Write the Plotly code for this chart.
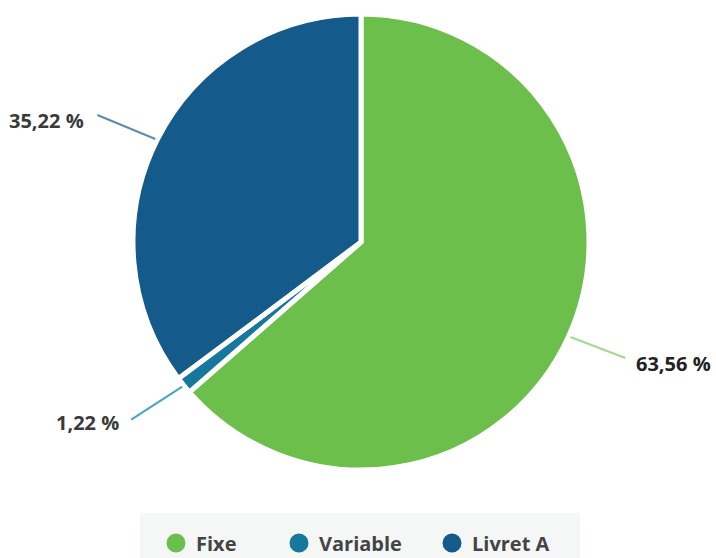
import math
import plotly.graph_objects as go

# ---- data ----
categories = ["Fixe", "Variable", "Livret A"]
values = [63.56, 1.22, 35.22]
value_labels = ["63,56 %", "1,22 %", "35,22 %"]

# ---- styles ----
colors = ["#6cbf4a", "#17789e", "#145a8a"]
line_colors = ["#a5d990", "#4aa3c7", "#5b8eae"]
W, H = 716, 558
CX, CY, R = 361, 242, 227
DOM_PAD = 1

def px(x):
    return x / W

def py(y):
    return 1 - y / H

fig = go.Figure()
fig.add_trace(go.Pie(
    labels=categories, values=values,
    sort=False, direction="clockwise", rotation=0,
    marker=dict(colors=colors, line=dict(color="white", width=5)),
    textinfo="none", hoverinfo="skip", showlegend=False,
    domain=dict(x=[px(CX - R - DOM_PAD), px(CX + R + DOM_PAD)],
                y=[py(CY + R + DOM_PAD), py(CY - R - DOM_PAD)]),
))

# leader-line offsets (px) and label offsets from the line end
line_off = {"Fixe": (55, 21), "Variable": (-51, 33), "Livret A": (-58, -24)}
text_off = {"Fixe": (9, 5), "Variable": (-10, 3), "Livret A": (-11, 5)}
text_col = {"Fixe": "#222222", "Variable": "#3a3a3a", "Livret A": "#3a3a3a"}

total = sum(values)
cum = 0.0
shapes = []
annotations = []
for cat, val, lab, lc in zip(categories, values, value_labels, line_colors):
    mid = (cum + val / 2) / total * 2 * math.pi
    cum += val
    ex = CX + (R + 3) * math.sin(mid)
    ey = CY - (R + 3) * math.cos(mid)
    dx, dy = line_off[cat]
    ox, oy = ex + dx, ey + dy
    shapes.append(dict(type="line", xref="paper", yref="paper",
                       x0=px(ex), y0=py(ey), x1=px(ox), y1=py(oy),
                       line=dict(color=lc, width=2)))
    tx, ty = text_off[cat]
    annotations.append(dict(
        x=px(ox + tx), y=py(oy + ty), xref="paper", yref="paper",
        text=f"<b>{lab}</b>", showarrow=False,
        xanchor="left" if dx > 0 else "right", yanchor="middle",
        font=dict(family="Open Sans", size=20, color=text_col[cat]),
    ))

# legend background
shapes.append(dict(type="rect", xref="paper", yref="paper",
                   x0=px(140), x1=px(580), y0=0, y1=py(513),
                   fillcolor="#f5f7f7", line=dict(width=0), layer="below"))

legend_x = [176, 299, 452]
legend_names = ["legend", "legend2", "legend3"]
for cat, col, lx, ln in zip(categories, colors, legend_x, legend_names):
    fig.add_trace(go.Scatter(
        x=[None], y=[None], mode="markers", name=cat, legend=ln,
        marker=dict(color=col, size=16, symbol="circle",
                    line=dict(color=col, width=3)),
        showlegend=True, hoverinfo="skip",
    ))

leg_font = dict(family="Open Sans", size=20, color="#444444", weight="bold")
layout_legends = {}
for lx, ln in zip(legend_x, legend_names):
    layout_legends[ln] = dict(
        orientation="h", yanchor="middle", y=py(543),
        xanchor="left", x=px(lx - 20), bgcolor="rgba(0,0,0,0)",
        font=leg_font, itemclick=False, itemdoubleclick=False)

fig.update_layout(
    width=W, height=H,
    margin=dict(l=0, r=0, t=0, b=0, autoexpand=False),
    paper_bgcolor="white", plot_bgcolor="white",
    xaxis=dict(visible=False), yaxis=dict(visible=False),
    shapes=shapes, annotations=annotations,
    font=dict(family="Open Sans"),
    **layout_legends,
)

fig.write_html("out.html")
